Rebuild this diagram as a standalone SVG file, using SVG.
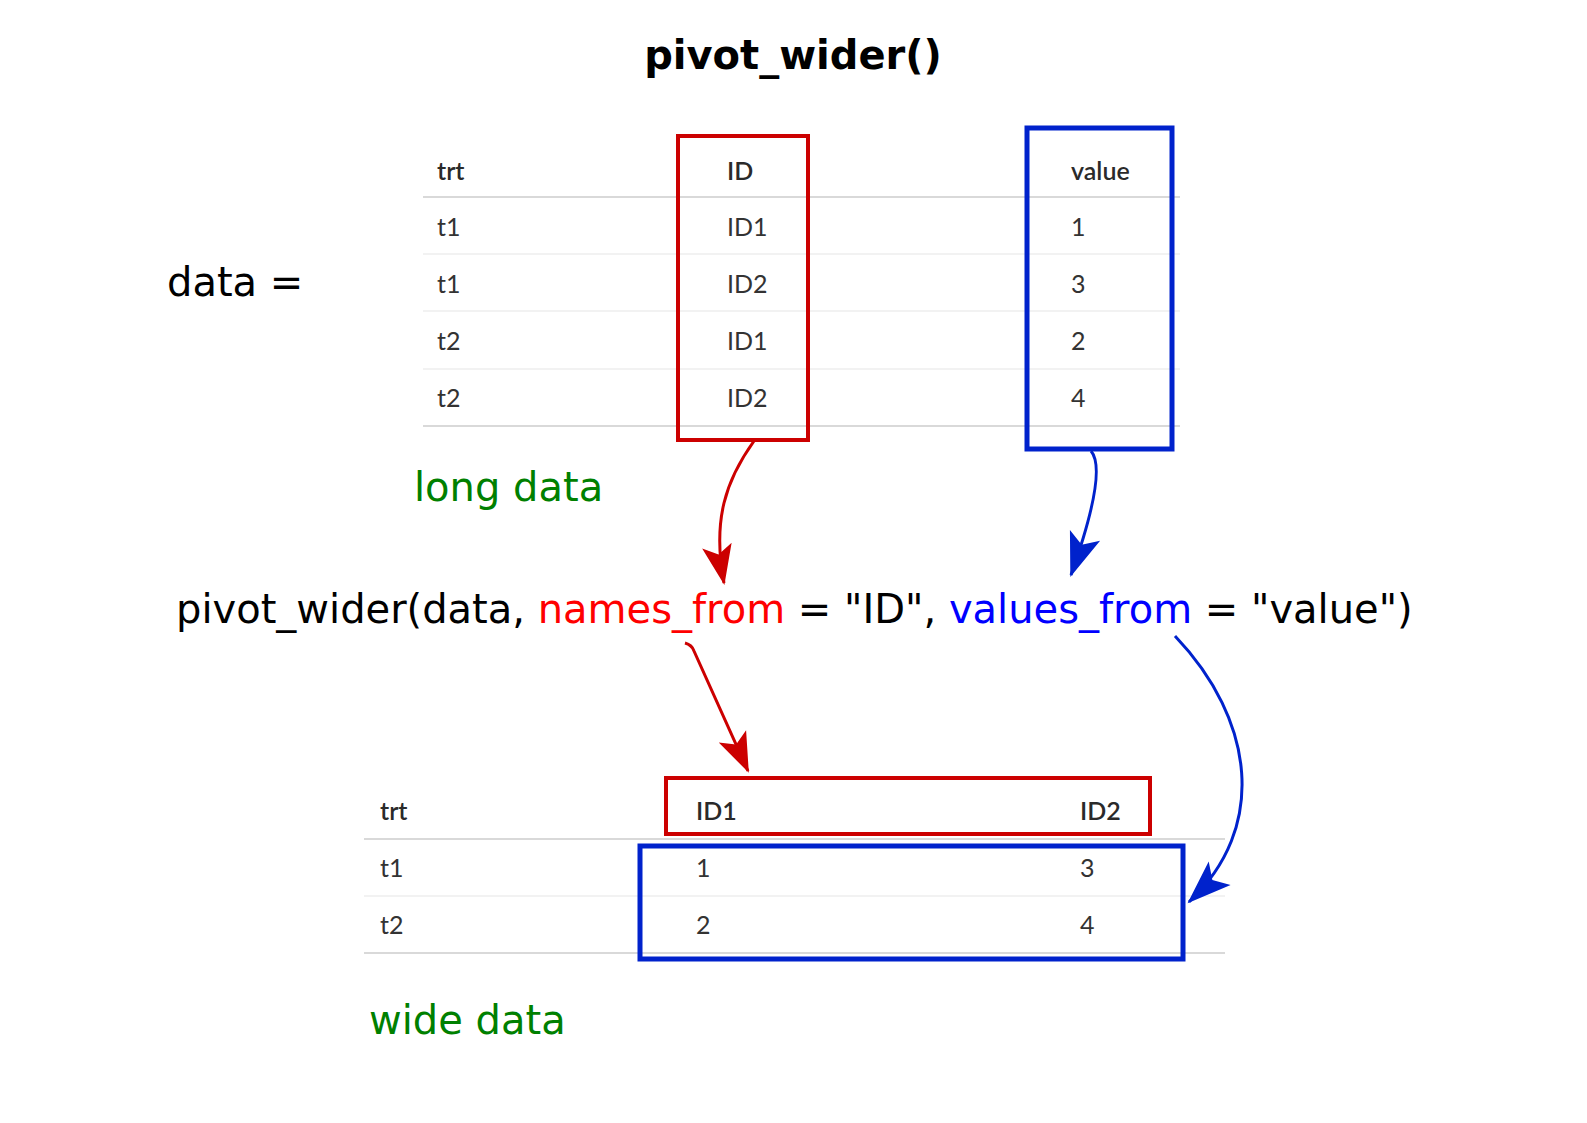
<svg xmlns="http://www.w3.org/2000/svg" width="1587" height="1123" viewBox="0 0 1587 1123">
<style>
.big{font-family:"DejaVu Sans",sans-serif;font-size:40px;fill:#000}
.title{font-weight:bold}
.green{fill:#008000}
.tb{font-family:Lato,"Liberation Sans",sans-serif;font-size:25px;fill:#333}
.th{font-weight:600;fill:#2a2a2a}
.hl{stroke:#d9d9d9;stroke-width:2}
.rl{stroke:#eeeeee;stroke-width:1.5}
.rbox{fill:none;stroke:#cc0000;stroke-width:4}
.bbox{fill:none;stroke:#0022cc;stroke-width:5}
.ra{fill:none;stroke:#cc0000;stroke-width:3}
.ba{fill:none;stroke:#0022cc;stroke-width:3}
</style>
<defs>
<marker id="headR" markerUnits="userSpaceOnUse" orient="auto" markerWidth="60" markerHeight="60" refX="0" refY="0" overflow="visible">
<path d="M2,0 L-38,-15 L-29,0 L-38,15 Z" fill="#cc0000"/>
</marker>
<marker id="headB" markerUnits="userSpaceOnUse" orient="auto" markerWidth="60" markerHeight="60" refX="0" refY="0" overflow="visible">
<path d="M2,0 L-42,-16 L-32,0 L-42,16 Z" fill="#0022cc"/>
</marker>
</defs>
<rect width="1587" height="1123" fill="#fff"/>

<g id="title"><text class="big title" x="793" y="69" text-anchor="middle">pivot_wider()</text></g>
<g id="data-label"><text class="big" x="167" y="296">data =</text></g>

<g id="long-table">
<text class="tb th" x="437" y="180">trt</text>
<text class="tb th" x="727" y="180">ID</text>
<text class="tb th" x="1071" y="180">value</text>
<line class="hl" x1="423" y1="197" x2="1180" y2="197"/>
<text class="tb" x="437" y="236">t1</text><text class="tb" x="727" y="236">ID1</text><text class="tb" x="1071" y="236">1</text>
<line class="rl" x1="423" y1="254" x2="1180" y2="254"/>
<text class="tb" x="437" y="293">t1</text><text class="tb" x="727" y="293">ID2</text><text class="tb" x="1071" y="293">3</text>
<line class="rl" x1="423" y1="311" x2="1180" y2="311"/>
<text class="tb" x="437" y="350">t2</text><text class="tb" x="727" y="350">ID1</text><text class="tb" x="1071" y="350">2</text>
<line class="rl" x1="423" y1="369" x2="1180" y2="369"/>
<text class="tb" x="437" y="407">t2</text><text class="tb" x="727" y="407">ID2</text><text class="tb" x="1071" y="407">4</text>
<line class="hl" x1="423" y1="426" x2="1180" y2="426"/>
</g>
<g id="long-id-box"><rect class="rbox" x="678" y="136" width="130" height="304"/></g>
<g id="long-value-box"><rect class="bbox" x="1027" y="128" width="145" height="321"/></g>
<g id="long-label"><text class="big green" x="414" y="501">long data</text></g>

<g id="formula"><text class="big" x="176" y="623">pivot_wider(data, <tspan fill="#ff0000">names_from</tspan> = "ID", <tspan fill="#0000ff">values_from</tspan> = "value")</text></g>

<g id="wide-table">
<text class="tb th" x="380" y="820">trt</text>
<text class="tb th" x="696" y="820">ID1</text>
<text class="tb th" x="1080" y="820">ID2</text>
<line class="hl" x1="364" y1="839" x2="1225" y2="839"/>
<text class="tb" x="380" y="877">t1</text><text class="tb" x="696" y="877">1</text><text class="tb" x="1080" y="877">3</text>
<line class="rl" x1="364" y1="896" x2="1225" y2="896"/>
<text class="tb" x="380" y="934">t2</text><text class="tb" x="696" y="934">2</text><text class="tb" x="1080" y="934">4</text>
<line class="hl" x1="364" y1="953" x2="1225" y2="953"/>
</g>
<g id="wide-names-box"><rect class="rbox" x="666" y="778" width="484" height="56" stroke-width="3"/></g>
<g id="wide-values-box"><rect class="bbox" x="640" y="846" width="543" height="113"/></g>
<g id="wide-label"><text class="big green" x="369" y="1034">wide data</text></g>

<g id="connectors">
<path class="ra" d="M754,441 C726,480 712,520 724,583" marker-end="url(#headR)"/>
<path class="ba" d="M1091,451 C1103,465 1094,510 1071,575" marker-end="url(#headB)"/>
<path class="ra" d="M685,643 Q692,645 694,651 L748,771" marker-end="url(#headR)"/>
<path class="ba" d="M1175,636 C1255,720 1268,828 1189,902" marker-end="url(#headB)"/>
</g>
</svg>
